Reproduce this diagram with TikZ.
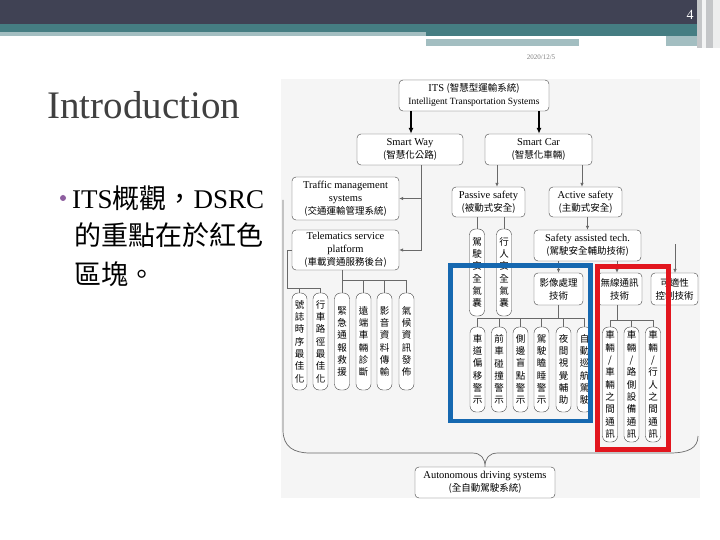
\documentclass[tikz,border=0pt]{standalone}
\usepackage{fontspec}
\setmainfont{Liberation Serif}
\newfontfamily\cjk{Noto Sans CJK TC}
\usetikzlibrary{arrows.meta}
\definecolor{barDark}{RGB}{64,66,84}
\definecolor{barTeal}{RGB}{69,125,130}
\definecolor{barLight}{RGB}{163,190,193}
\definecolor{stripGray}{RGB}{196,198,200}
\definecolor{diagBg}{RGB}{245,245,245}
\definecolor{lineGray}{RGB}{105,105,105}
\definecolor{markBlue}{RGB}{22,104,176}
\definecolor{markRed}{RGB}{226,22,30}
\definecolor{titleGray}{RGB}{64,64,64}
\definecolor{dotPurple}{RGB}{142,94,160}
\newcommand{\zhs}[1]{{\cjk\fontsize{9.5}{13}\selectfont #1}}

\begin{document}
\begin{tikzpicture}[
  x=1pt, y=-1pt,
  box/.style={draw=black!75, rounded corners=4pt, fill=white, align=center,
              inner sep=1pt, font=\fontsize{10.5}{13}\selectfont},
  vbox/.style={draw=black!75, rounded corners=6pt, fill=white, align=center,
               inner sep=1pt, minimum width=15pt, text width=11pt,
               font=\cjk\fontsize{9.5}{12.3}\selectfont},
  link/.style={draw=lineGray, line width=0.7pt},
  arr/.style={link, -{Latex[length=4pt,width=3.5pt]}},
  bigarr/.style={-{Latex[length=6pt,width=5pt]}, line width=1.6pt},
  mark/.style={line width=#1},
]
\useasboundingbox (0,0) rectangle (720,540);
\fill[white] (0,0) rectangle (720,540);

% header
\fill[barDark] (0,0) rectangle (697,24);
\fill[barTeal] (0,24) rectangle (697,32);
\fill[barLight] (0,32) rectangle (426,36);
\fill[barTeal] (426,32) rectangle (697,36);
\fill[barLight] (426,39) rectangle (579,46);
\fill[barLight] (666,36) rectangle (697,46);
\fill[stripGray] (697,0) rectangle (720,48);
\fill[white!80!stripGray] (702,0) rectangle (706,48);
\fill[white!70!stripGray] (713,0) rectangle (720,48);
\node[text=white, font=\fontsize{14}{14}\selectfont] (pageno) at (690,15) {4};
\node[text=gray, font=\fontsize{7}{7}\selectfont] (date) at (541,57) {2020/12/5};

% title and bullet
\node[anchor=base west, inner sep=0, text=titleGray,
      font=\fontsize{39}{39}\selectfont] (title) at (47,119) {Introduction};
\fill[dotPurple] (63,198) circle (3);
\node[anchor=base west, inner sep=0, font=\fontsize{27}{27}\selectfont] (line1) at (72,208)
  {ITS{\cjk 概觀，}DSRC};
\node[anchor=base west, inner sep=0, font=\cjk\fontsize{27}{27}\selectfont] (line2) at (74,245)
  {的重點在於紅色};
\node[anchor=base west, inner sep=0, font=\cjk\fontsize{27}{27}\selectfont] (line3) at (74,284)
  {區塊。};

% diagram
\fill[diagBg] (281,79) rectangle (700,498);

\node[box, minimum width=150pt, minimum height=31pt] (its) at (474,95.5)
  {ITS \zhs{(智慧型運輸系統)}\\{\fontsize{9.5}{12}\selectfont Intelligent Transportation Systems}};
\node[box, minimum width=106pt, minimum height=31pt] (way) at (410,149.5) {Smart Way\\\zhs{(智慧化公路)}};
\node[box, minimum width=107pt, minimum height=31pt] (car) at (538.5,149.5) {Smart Car\\\zhs{(智慧化車輛)}};

\node[box, minimum width=107pt, minimum height=43pt] (traffic) at (345.5,198.5)
  {Traffic management\\systems\\\zhs{(交通運輸管理系統)}};
\node[box, minimum width=107pt, minimum height=40pt] (telem) at (345.5,250)
  {Telematics service\\platform\\\zhs{(車載資通服務後台)}};

\node[box, minimum width=73pt, minimum height=30pt] (passive) at (488.5,202) {Passive safety\\\zhs{(被動式安全)}};
\node[box, minimum width=73pt, minimum height=30pt] (active) at (585.5,202) {Active safety\\\zhs{(主動式安全)}};
\node[box, minimum width=107pt, minimum height=31pt] (assist) at (587.5,245.5)
  {Safety assisted tech.\\\zhs{(駕駛安全輔助技術)}};

\node[box, minimum width=49pt, minimum height=32pt, font=\cjk\fontsize{9.5}{13}\selectfont] (imgproc) at (558.5,289) {影像處理\\技術};
\node[box, minimum width=45pt, minimum height=32pt, font=\cjk\fontsize{9.5}{13}\selectfont] (wireless) at (619.5,289) {無線通訊\\技術};
\node[box, minimum width=47pt, minimum height=32pt, font=\cjk\fontsize{9.5}{13}\selectfont] (adaptive) at (674.5,289) {可適性\\控制技術};

\node[vbox, minimum height=87pt] (bag1) at (477,272.5) {駕\\駛\\安\\全\\氣\\囊};
\node[vbox, minimum height=87pt] (bag2) at (504,272.5) {行\\人\\安\\全\\氣\\囊};

\node[vbox, minimum height=97pt] (tel1) at (299.5,341.5) {號\\誌\\時\\序\\最\\佳\\化};
\node[vbox, minimum height=97pt] (tel2) at (320.5,341.5) {行\\車\\路\\徑\\最\\佳\\化};
\node[vbox, minimum height=97pt] (tel3) at (342,341.5) {緊\\急\\通\\報\\救\\援};
\node[vbox, minimum height=97pt] (tel4) at (363.5,341.5) {遠\\端\\車\\輛\\診\\斷};
\node[vbox, minimum height=97pt] (tel5) at (384.5,341.5) {影\\音\\資\\料\\傳\\輸};
\node[vbox, minimum height=97pt] (tel6) at (406.5,341.5) {氣\\候\\資\\訊\\發\\佈};

\node[vbox, minimum height=85pt] (img1) at (477.5,369.5) {車\\道\\偏\\移\\警\\示};
\node[vbox, minimum height=85pt] (img2) at (499,369.5) {前\\車\\碰\\撞\\警\\示};
\node[vbox, minimum height=85pt] (img3) at (520.5,369.5) {側\\邊\\盲\\點\\警\\示};
\node[vbox, minimum height=85pt] (img4) at (541.5,369.5) {駕\\駛\\瞌\\睡\\警\\示};
\node[vbox, minimum height=85pt] (img5) at (563.5,369.5) {夜\\間\\視\\覺\\輔\\助};
\node[vbox, minimum height=85pt] (img6) at (584.5,369.5) {自\\動\\巡\\航\\駕\\駛};

\node[vbox, minimum height=115pt] (com1) at (610,384.5) {車\\輛\\/\\車\\輛\\之\\間\\通\\訊};
\node[vbox, minimum height=115pt] (com2) at (631.5,384.5) {車\\輛\\/\\路\\側\\設\\備\\通\\訊};
\node[vbox, minimum height=115pt] (com3) at (653,384.5) {車\\輛\\/\\行\\人\\之\\間\\通\\訊};

\node[box, minimum width=140pt, minimum height=31pt] (auto) at (485,482.5)
  {Autonomous driving systems\\\zhs{(全自動駕駛系統)}};

% connectors
\draw[bigarr] (its.south -| 411,0) -- (way.north -| 411,0);
\draw[bigarr] (its.south -| 539,0) -- (car.north -| 539,0);

\coordinate (wayR) at ([xshift=11pt]way.south);
\draw[arr] (wayR) |- (traffic.east);
\draw[arr] (wayR) |- (telem.east);

\coordinate (carL) at ([xshift=-41.5pt]car.south);
\coordinate (carR) at ([xshift=43.5pt]car.south);
\draw[arr] (carL) -- (carL |- passive.north);
\draw[arr] (carR) -- (carR |- active.north);
\draw[arr] (active.south -| assist.north) -- (assist.north);

\draw[link] (bag1.north |- passive.south) -- (bag1.north);
\draw[link] (bag2.north |- passive.south) -- (bag2.north);

\draw[arr] (imgproc.north |- assist.south) -- (imgproc.north);
\draw[arr] ([xshift=-2.5pt]wireless.north |- assist.south) -- ([xshift=-2.5pt]wireless.north);
\coordinate (adTop) at (675,244);
\draw[arr, line width=0.4pt] (adTop) -- (adTop |- adaptive.north);

% telematics tree
\coordinate (tbusL) at (287,288);
\draw[link] (telem.west) -| (tbusL) -- (tbusL -| tel2.north);
\foreach \n in {tel1,tel2}
  \draw[link] (\n.north |- tbusL) -- (\n.north);
\coordinate (tbus) at (342,280);
\draw[link] (tel3.north |- telem.south) -- (tel3.north);
\draw[link] (tbus) -- (tbus -| tel6.north);
\foreach \n in {tel4,tel5,tel6}
  \draw[link] (\n.north |- tbus) -- (\n.north);

% image processing tree
\coordinate (ibus) at (558,318);
\draw[link] (imgproc.south) -- (imgproc.south |- ibus);
\draw[link] (img1.north |- ibus) -- (img6.north |- ibus);
\foreach \n in {img1,img2,img3,img4,img5,img6}
  \draw[link] (\n.north |- ibus) -- (\n.north);

% wireless tree
\coordinate (cbus) at (617,320);
\draw[link] (wireless.south -| cbus) -- (cbus);
\draw[link] (com1.north |- cbus) -- (com3.north |- cbus);
\foreach \n in {com1,com2,com3}
  \draw[link] (\n.north |- cbus) -- (\n.north);

% brace
\draw[link] (283,200) -- (283,430) .. controls (283,447) and (294,453) .. (310,453)
  -- (472,453) .. controls (481,453) and (485,458) .. (auto.north)
  .. controls (485,458) and (489,453) .. (498,453)
  -- (670,453) .. controls (688,453) and (698,448) .. (698,436);

% highlight frames
\draw[markBlue, mark=4.5pt] (450.5,265.5) rectangle (590.5,421);
\draw[markRed, mark=5pt] (597.5,266.5) rectangle (668.5,449.5);

\end{tikzpicture}
\end{document}
